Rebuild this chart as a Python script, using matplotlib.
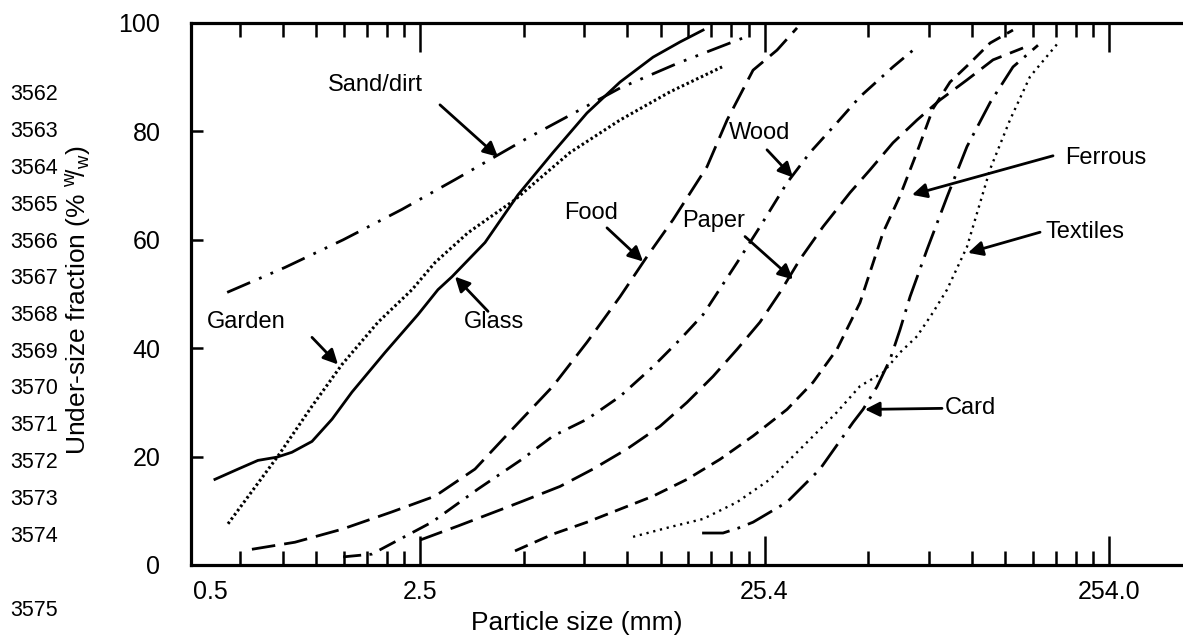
import matplotlib
matplotlib.use('Agg')
import matplotlib.pyplot as plt
from matplotlib.ticker import FixedLocator, NullFormatter

plt.rcParams['font.family'] = ['Liberation Sans', 'DejaVu Sans']
plt.rcParams['mathtext.fontset'] = 'custom'
plt.rcParams['mathtext.rm'] = 'Liberation Sans'
plt.rcParams['mathtext.it'] = 'Liberation Sans:italic'
plt.rcParams['lines.scale_dashes'] = False

# cumulative under-size curves: particle size (mm) vs % w/w passing
sand_size = [0.70, 1.03, 1.52, 2.25, 3.21, 5.12, 6.79, 9.67, 14.25, 22.76]
sand_under = [50.3, 54.9, 60.0, 65.6, 71.1, 78.5, 82.7, 88.0, 92.6, 97.6]

glass_size = [0.645, 0.753, 0.860, 0.977, 1.079, 1.234, 1.411, 1.612, 2.010, 2.506,
              2.864, 3.147, 3.923, 4.890, 6.178, 7.755, 9.671, 12.06, 14.44, 16.85]
glass_under = [15.8, 17.7, 19.3, 19.9, 20.8, 22.8, 26.9, 31.9, 39.2, 46.2,
               50.8, 53.2, 59.5, 68.3, 76.1, 83.4, 89.1, 93.7, 96.5, 98.7]

garden_size = [0.704, 0.983, 1.234, 1.508, 1.919, 2.408, 2.808, 3.501, 4.793,
               6.923, 9.671, 13.51, 19.13]
garden_under = [7.6, 20.1, 29.3, 37.0, 44.8, 50.8, 55.8, 61.3, 67.4,
                76.1, 82.1, 87.3, 91.9]

food_size = [0.826, 1.101, 1.508, 2.106, 2.808, 3.669, 4.698, 6.178, 7.755, 9.671,
             11.58, 13.78, 17.30, 19.78, 23.53, 27.62, 31.57]
food_under = [2.9, 4.2, 6.6, 9.8, 12.7, 17.7, 25.0, 33.0, 41.1, 49.5,
              56.9, 63.7, 73.5, 82.1, 91.3, 95.0, 99.1]

wood_size = [1.52, 1.84, 2.75, 3.74, 5.02, 6.18, 7.76, 9.67, 12.06, 14.44,
             16.85, 21.15, 24.64, 29.52, 34.43, 41.23, 48.09, 59.95, 70.40]
wood_under = [1.5, 2.0, 7.9, 14.0, 19.5, 23.8, 26.9, 31.1, 36.6, 41.6,
              46.2, 55.8, 62.4, 70.5, 76.1, 81.6, 86.4, 91.9, 95.6]

paper_size = [2.54, 3.275, 4.394, 5.056, 6.476, 8.072, 10.13, 12.64, 15.13, 18.01,
              21.15, 24.64, 28.17, 32.21, 37.55, 44.98, 51.41, 59.95, 70.40, 82.09,
              98.31, 117.0, 143.0]
paper_under = [4.6, 7.2, 10.3, 11.8, 14.5, 17.7, 21.4, 25.6, 30.0, 34.8,
               39.8, 44.8, 50.3, 56.4, 62.4, 68.7, 72.9, 77.9, 82.1, 85.8,
               89.5, 93.2, 95.4]

ferrous_size = [4.793, 6.178, 7.755, 9.671, 12.06, 15.13, 18.87, 23.53, 29.52, 35.13,
                41.23, 48.09, 56.08, 62.82, 70.40, 78.34, 87.77, 100.3, 114.7, 133.7]
ferrous_under = [2.6, 5.7, 7.9, 10.3, 12.7, 15.8, 19.5, 23.8, 28.7, 33.7,
                 39.8, 48.4, 61.3, 68.1, 76.2, 84.2, 89.1, 92.6, 96.3, 98.7]

card_size = [16.74, 19.25, 21.29, 23.53, 29.52, 36.81, 45.89, 49.06, 53.87, 58.77,
             62.82, 67.19, 75.27, 86.02, 98.31, 114.7, 133.7, 158.0]
card_under = [5.9, 5.9, 6.8, 7.9, 11.6, 17.7, 26.3, 28.7, 32.9, 37.9,
              43.4, 49.5, 58.2, 67.9, 77.2, 85.3, 91.9, 95.9]

textile_size = [10.55, 13.51, 16.85, 21.15, 26.35, 32.86, 41.23, 48.09, 56.08, 62.82,
                70.40, 78.34, 86.02, 98.31, 109.5, 114.7, 131.0, 149.8, 180.6]
textile_under = [5.2, 7.0, 8.5, 11.6, 15.8, 21.9, 28.2, 33.0, 35.5, 39.2,
                 42.2, 46.6, 50.8, 58.7, 68.7, 73.0, 82.1, 90.1, 96.3]

# labelled arrows: text centre, arrow tail, arrow tip
label_names = ['Sand/dirt', 'Glass', 'Garden', 'Food', 'Wood', 'Paper',
               'Ferrous', 'Textiles', 'Card']
label_x = [1.88, 4.17, 0.794, 7.97, 24.6, 18.1, 249.0, 216.0, 100.3]
label_y = [88.6, 44.8, 44.8, 65.0, 79.7, 63.4, 75.1, 61.5, 28.9]
tail_x = [2.903, 4.002, 1.234, 8.865, 25.83, 22.30, 174.7, 160.2, 83.19]
tail_y = [84.9, 46.8, 42.0, 62.2, 76.6, 60.6, 75.5, 61.4, 28.9]
tip_x = [4.278, 3.210, 1.468, 11.28, 30.73, 30.73, 68.07, 98.97, 49.70]
tip_y = [75.3, 53.2, 37.0, 56.0, 71.5, 52.7, 68.3, 57.6, 28.7]

x_major = [2.54, 25.4, 254.0]
x_major_labels = ['2.5', '25.4', '254.0']
y_ticks = [0, 20, 40, 60, 80, 100]
line_numbers = list(range(3562, 3575))

fig = plt.figure(figsize=(11.83, 6.39), dpi=100)
ax = fig.add_axes([191 / 1183, 74 / 639, 992 / 1183, 542 / 639])

lw = 2.0
ax.plot(sand_size, sand_under, color='k', lw=lw, linestyle=(0, (18, 7, 2, 7, 2, 7)))
ax.plot(glass_size, glass_under, color='k', lw=lw, linestyle='-')
ax.plot(garden_size, garden_under, color='k', lw=2.2, linestyle=(0, (1.8, 2.0)))
ax.plot(food_size, food_under, color='k', lw=lw, linestyle=(0, (17, 6.5)))
ax.plot(wood_size, wood_under, color='k', lw=lw, linestyle=(0, (13, 6, 2, 6)))
ax.plot(paper_size, paper_under, color='k', lw=lw, linestyle=(0, (17, 6.5)))
ax.plot(ferrous_size, ferrous_under, color='k', lw=lw, linestyle=(0, (10, 5.5)))
ax.plot(card_size, card_under, color='k', lw=lw, linestyle=(0, (20, 6, 2, 6)))
ax.plot(textile_size, textile_under, color='k', lw=1.7, linestyle=(0, (1.6, 3.4)))

for name, lx, ly, ax0, ay0, ax1, ay1 in zip(label_names, label_x, label_y,
                                            tail_x, tail_y, tip_x, tip_y):
    ax.text(lx, ly, name, ha='center', va='center', fontsize=17)
    ax.annotate('', xy=(ax1, ay1), xytext=(ax0, ay0),
                arrowprops=dict(arrowstyle='-|>', color='k', lw=2.0,
                                mutation_scale=22, shrinkA=0, shrinkB=0))

ax.set_xscale('log')
ax.set_xlim(0.5497, 416.5)
ax.set_ylim(0, 100)

ax.xaxis.set_major_locator(FixedLocator(x_major))
ax.set_xticklabels(x_major_labels)
ax.xaxis.set_minor_locator(FixedLocator([k * m for m in (0.254, 2.54, 25.4)
                                         for k in range(2, 10)]))
ax.xaxis.set_minor_formatter(NullFormatter())
ax.set_yticks(y_ticks)

ax.tick_params(axis='x', which='major', direction='in', top=True, bottom=True,
               length=21, width=1.8, labelsize=18, pad=11)
ax.tick_params(axis='x', which='minor', direction='in', top=True, bottom=True,
               length=10, width=1.8)
ax.tick_params(axis='y', which='major', direction='in', left=True, right=False,
               length=8.5, width=1.8, labelsize=18, pad=22)

for side in ('left', 'bottom', 'top'):
    ax.spines[side].set_linewidth(2.3)
ax.spines['right'].set_visible(False)

ax.annotate('0.5', xy=(0, 0), xycoords='axes fraction', xytext=(1.5, -11),
            textcoords='offset points', ha='left', va='top', fontsize=18)

ax.set_xlabel('Particle size (mm)', fontsize=19)
ax.xaxis.set_label_coords(0.389, -0.085)
ax.set_ylabel(r'Under-size fraction (% $^{\mathrm{w}}\!/_{\mathrm{w}}$)', fontsize=19)
ax.yaxis.set_label_coords(-0.099, 0.489)

# margin line numbers
for i, n in enumerate(line_numbers):
    fig.text(58 / 1183, 1 - (95 + 36.75 * i) / 639, str(n),
             ha='right', va='center', fontsize=15.5)
fig.text(58 / 1183, 1 - 610 / 639, '3575', ha='right', va='center', fontsize=15.5)

fig.savefig('out.png', dpi=100)
